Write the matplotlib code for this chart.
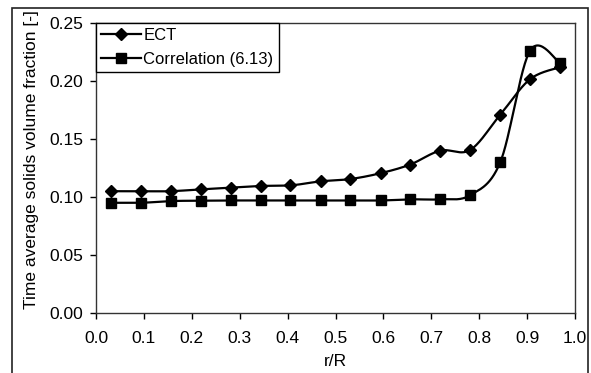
import matplotlib
matplotlib.use('Agg')
import matplotlib.pyplot as plt
from matplotlib.patches import Rectangle
import numpy as np

plt.rcParams['font.family'] = ['Liberation Sans', 'DejaVu Sans']

r_R = [0.031, 0.094, 0.156, 0.219, 0.281, 0.344, 0.406, 0.469,
       0.531, 0.594, 0.656, 0.719, 0.781, 0.844, 0.906, 0.969]
ect = [0.105, 0.105, 0.105, 0.1066, 0.108, 0.1095, 0.110, 0.1135,
       0.1155, 0.1205, 0.128, 0.140, 0.1405, 0.171, 0.2015, 0.212]
corr = [0.095, 0.095, 0.0965, 0.0968, 0.097, 0.097, 0.097, 0.097,
        0.097, 0.097, 0.098, 0.098, 0.1015, 0.130, 0.226, 0.2155]


# excel style smoothed line (bezier through the points)
def smooth(x, y, n=30):
    p = np.column_stack([x, y])
    pts = np.vstack([p[0], p, p[-1]])
    out = []
    for i in range(1, len(pts) - 2):
        p0, p1, p2, p3 = pts[i - 1], pts[i], pts[i + 1], pts[i + 2]
        c1 = p1 + (p2 - p0) / 6
        c2 = p2 - (p3 - p1) / 6
        t = np.linspace(0, 1, n)[:, None]
        seg = ((1 - t) ** 3) * p1 + 3 * ((1 - t) ** 2) * t * c1 + 3 * (1 - t) * t ** 2 * c2 + t ** 3 * p2
        out.append(seg)
    s = np.vstack(out)
    return s[:, 0], s[:, 1]


fig = plt.figure(figsize=(5.91, 3.73), dpi=100)
ax = fig.add_axes([96 / 591, 60 / 373, 479 / 591, 290 / 373])

sx, sy = smooth(r_R, ect)
ax.plot(sx, sy, color='black', lw=1.6)
ax.plot(r_R, ect, ls='none', marker='D', ms=6.5, color='black')
sx, sy = smooth(r_R, corr)
ax.plot(sx, sy, color='black', lw=1.6)
ax.plot(r_R, corr, ls='none', marker='s', ms=7, color='black')

# legend handles with line + marker
h1, = ax.plot([], [], color='black', lw=1.6, marker='D', ms=6.5)
h2, = ax.plot([], [], color='black', lw=1.6, marker='s', ms=7)
leg = ax.legend([h1, h2], ['ECT', 'Correlation (6.13)'], loc='upper left',
                bbox_to_anchor=(0, 1), borderaxespad=0, fancybox=False,
                framealpha=1, edgecolor='black', fontsize=12,
                handlelength=2.4, handletextpad=0.15, borderpad=0.3, labelspacing=0.55)
leg.get_frame().set_linewidth(1.0)

ax.set_xlim(0, 1.0)
ax.set_ylim(0, 0.25)
ax.set_xticks(np.arange(0, 1.01, 0.1))
ax.set_xticklabels(['%.1f' % v for v in np.arange(0, 1.01, 0.1)])
ax.set_yticks(np.arange(0, 0.251, 0.05))
ax.set_yticklabels(['%.2f' % v for v in np.arange(0, 0.251, 0.05)])
ax.tick_params(labelsize=12.5, length=4, width=1, direction='out')
ax.tick_params(axis='x', pad=9)
ax.tick_params(axis='y', pad=5)
for s in ax.spines.values():
    s.set_color('#333333')
    s.set_linewidth(1.0)

ax.set_xlabel('r/R', fontsize=12.5, labelpad=6)
ax.set_ylabel('Time average solids volume fraction [-]', fontsize=12.5)
ax.yaxis.set_label_coords(-0.12, 0.53)

fig.patches.append(Rectangle((12 / 591, -0.01), 576 / 591, 365 / 373 + 0.01, transform=fig.transFigure,
                             fill=False, edgecolor='#222222', lw=1.2))
# white band above the frame hides the clipped top of the y label
fig.patches.append(Rectangle((0, 366 / 373), 1, 0.03, transform=fig.transFigure,
                             facecolor='white', edgecolor='none', zorder=5))

fig.savefig('out.png', dpi=100)
